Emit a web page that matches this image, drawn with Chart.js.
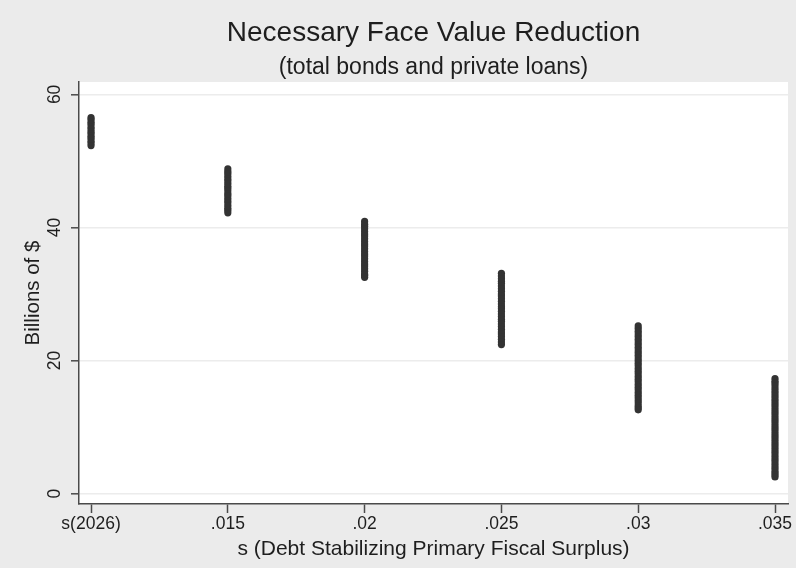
<!DOCTYPE html>
<html>
<head>
<meta charset="utf-8">
<script src="https://cdn.jsdelivr.net/npm/chart.js@4"></script>
<style>
  html, body { margin: 0; padding: 0; background: #ebebeb; }
  #wrap { width: 796px; height: 568px; }
</style>
</head>
<body>
<div id="wrap"><canvas id="c" width="796" height="568"></canvas></div>
<script>
// Categories along the x axis (scenario for s)
const categories = ['s(2026)', '.015', '.02', '.025', '.03', '.035'];

// Necessary face value reduction, billions of $, per scenario
const vals2026 = [56.5, 56.2, 55.8, 55.5, 55.1, 54.8, 54.4, 54.1, 53.7, 53.4, 53.0, 52.7, 52.3];
const vals015 = [48.8, 48.4, 48.1, 47.7, 47.3, 47.0, 46.6, 46.2, 45.9, 45.5, 45.1, 44.8, 44.4, 44.0, 43.7, 43.3, 42.9, 42.6, 42.2];
const vals02 = [40.9, 40.5, 40.2, 39.8, 39.4, 39.0, 38.7, 38.3, 37.9, 37.5, 37.2, 36.8, 36.4, 36.0, 35.7, 35.3, 34.9, 34.5, 34.2, 33.8, 33.4, 33.0, 32.8, 32.5];
const vals025 = [33.1, 32.7, 32.3, 31.9, 31.6, 31.2, 30.8, 30.4, 30.0, 29.7, 29.3, 28.9, 28.5, 28.1, 27.8, 27.4, 27.0, 26.6, 26.2, 25.9, 25.5, 25.1, 24.7, 24.3, 24.0, 23.6, 23.2, 22.8, 22.4];
const vals03 = [25.2, 24.8, 24.4, 24.0, 23.6, 23.2, 22.8, 22.4, 22.0, 21.6, 21.2, 20.8, 20.4, 20.0, 19.6, 19.2, 18.8, 18.4, 18.0, 17.6, 17.2, 16.8, 16.4, 16.0, 15.6, 15.2, 14.8, 14.4, 14.0, 13.6, 13.2, 12.9, 12.6];
const vals035 = [17.3, 16.9, 16.6, 16.2, 15.8, 15.4, 15.0, 14.6, 14.2, 13.8, 13.4, 13.0, 12.6, 12.2, 11.8, 11.4, 11.0, 10.6, 10.2, 9.8, 9.4, 9.0, 8.6, 8.2, 7.8, 7.4, 7.0, 6.6, 6.2, 5.8, 5.4, 5.0, 4.6, 4.2, 3.8, 3.4, 3.1, 2.8, 2.5];

const yTicks = [0, 20, 40, 60];

const groups = [vals2026, vals015, vals02, vals025, vals03, vals035];
const points = [];
groups.forEach((g, i) => g.forEach(v => points.push({ x: i, y: v })));

const FONT = "'Liberation Sans', Arial, sans-serif";
const TEXT = '#1e1e1e';
const AXIS = '#4a4a4a';

// Gray page with a white plot region
const plotBg = {
  id: 'plotBg',
  beforeDraw(chart) {
    const { ctx, chartArea: a } = chart;
    ctx.save();
    ctx.fillStyle = '#ebebeb';
    ctx.fillRect(0, 0, chart.width, chart.height);
    ctx.fillStyle = '#ffffff';
    ctx.fillRect(a.left, a.top, a.right - a.left, a.bottom - a.top);
    ctx.restore();
  }
};

new Chart(document.getElementById('c'), {
  type: 'scatter',
  data: {
    datasets: [{
      data: points,
      backgroundColor: '#333333',
      borderWidth: 0,
      pointRadius: 3.6,
      pointHoverRadius: 3.6
    }]
  },
  options: {
    responsive: false,
    animation: false,
    events: [],
    layout: { padding: { top: 0, right: 8, bottom: 0, left: 0 } },
    plugins: {
      legend: { display: false },
      tooltip: { enabled: false },
      title: {
        display: true,
        fullSize: false,
        text: 'Necessary Face Value Reduction',
        color: TEXT,
        font: { family: FONT, size: 28, weight: 'normal', lineHeight: 1.1 },
        padding: { top: 17.6, bottom: 0 }
      },
      subtitle: {
        display: true,
        fullSize: false,
        text: '(total bonds and private loans)',
        color: TEXT,
        font: { family: FONT, size: 23, weight: 'normal', lineHeight: 1.1 },
        padding: { top: 6.9, bottom: 1.4 }
      }
    },
    scales: {
      x: {
        type: 'linear',
        min: -0.088,
        max: 5.095,
        afterBuildTicks: s => { s.ticks = categories.map((_, i) => ({ value: i })); },
        afterFit: s => { s.height = 64; },
        grid: { drawOnChartArea: false, drawTicks: true, tickLength: 9, tickColor: AXIS, tickWidth: 1.5 },
        border: { color: AXIS, width: 1.5 },
        ticks: {
          color: TEXT,
          font: { family: FONT, size: 17.5 },
          padding: 1,
          maxRotation: 0,
          autoSkip: false,
          callback: v => categories[v]
        },
        title: {
          display: true,
          text: 's (Debt Stabilizing Primary Fiscal Surplus)',
          color: TEXT,
          font: { family: FONT, size: 21 },
          padding: { top: 0, bottom: 6.4 }
        }
      },
      y: {
        min: -1.56,
        max: 61.86,
        afterBuildTicks: s => { s.ticks = yTicks.map(v => ({ value: v })); },
        afterFit: s => { s.width = 79; },
        grid: { color: '#ececec', lineWidth: 1.6, drawTicks: true, tickLength: 8, tickColor: AXIS, tickWidth: 1.5 },
        border: { color: AXIS, width: 1.5 },
        ticks: {
          color: TEXT,
          font: { family: FONT, size: 17.5 },
          padding: 6,
          minRotation: 90,
          maxRotation: 90,
          crossAlign: 'center'
        },
        title: {
          display: true,
          text: 'Billions of $',
          color: TEXT,
          font: { family: FONT, size: 20.5 },
          padding: { top: 20.7, bottom: 0 }
        }
      }
    }
  },
  plugins: [plotBg]
});
</script>
</body>
</html>
